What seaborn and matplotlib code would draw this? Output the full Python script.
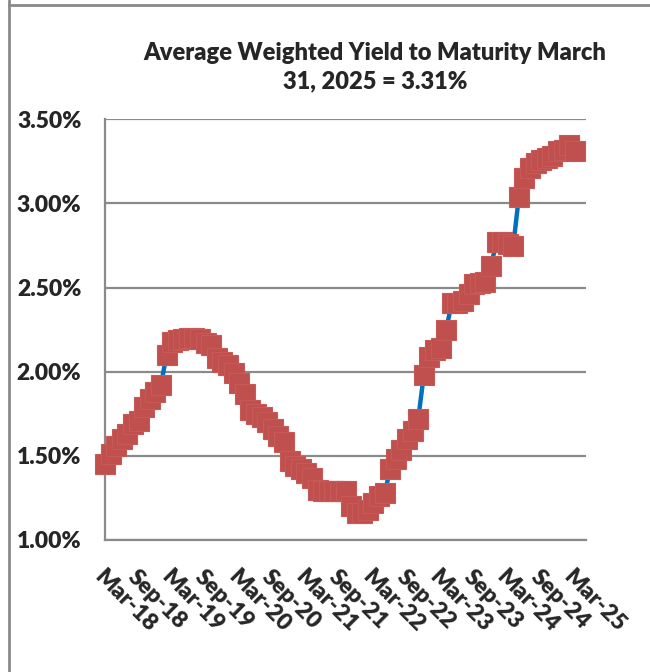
import matplotlib
matplotlib.use("Agg")
import matplotlib.pyplot as plt
import matplotlib.lines as mlines
import seaborn as sns
import pandas as pd

# monthly average weighted yield to maturity, Mar-18 .. Mar-25 (percent)
months = pd.date_range("2018-03-01", "2025-03-01", freq="MS")
yields = [
    1.45, 1.51, 1.56, 1.60, 1.63, 1.69, 1.71, 1.79, 1.84, 1.88, 1.92,
    2.10, 2.175, 2.19, 2.195, 2.20, 2.20, 2.195, 2.17, 2.16, 2.08, 2.06,
    2.04, 1.99, 1.93, 1.87, 1.77, 1.75, 1.73, 1.70, 1.66, 1.62, 1.58,
    1.47, 1.44, 1.42, 1.40, 1.37, 1.30, 1.29, 1.29, 1.29, 1.29, 1.29,
    1.20, 1.16, 1.16, 1.18, 1.22, 1.26, 1.28, 1.42, 1.48, 1.535, 1.60,
    1.65, 1.72, 1.98, 2.09, 2.13, 2.14, 2.25, 2.41, 2.41, 2.42, 2.46,
    2.52, 2.53, 2.535, 2.63, 2.77, 2.77, 2.76, 2.75, 3.04, 3.15, 3.21,
    3.24, 3.26, 3.27, 3.28, 3.31, 3.32, 3.35, 3.31,
]
tick_labels = ["Mar-18", "Sep-18", "Mar-19", "Sep-19", "Mar-20", "Sep-20",
               "Mar-21", "Sep-21", "Mar-22", "Sep-22", "Mar-23", "Sep-23",
               "Mar-24", "Sep-24", "Mar-25"]
y_ticks = [1.0, 1.5, 2.0, 2.5, 3.0, 3.5]

df = pd.DataFrame({"idx": range(len(months)), "yld": yields})

sns.set_style("white")
plt.rcParams["font.family"] = ["Lato", "DejaVu Sans"]

fig = plt.figure(figsize=(6.5, 6.72), dpi=100)
ax = fig.add_axes([105 / 650, 1 - 540 / 672, 481 / 650, 420.7 / 672])

grey = "#8a8a8a"
for yt in y_ticks:
    ax.axhline(yt, color=grey, lw=1.6, zorder=0)

sns.lineplot(data=df, x="idx", y="yld", ax=ax, color="#0070C0", lw=3.2,
             marker="s", markersize=14.5, markerfacecolor="#C0504D",
             markeredgecolor="#C75A57", markeredgewidth=0.8, clip_on=False,
             zorder=3)

ax.set_xlim(0, 86)
ax.set_ylim(1.0, 3.5)
ax.set_xticks(range(0, 85, 6))
ax.set_xticklabels(tick_labels, rotation=-45, ha="left", va="top",
                   rotation_mode="anchor", fontsize=16.5, fontweight="heavy")
ax.set_yticks(y_ticks)
ax.set_yticklabels(["%.2f%%" % v for v in y_ticks], fontsize=16.5,
                   fontweight="heavy")
ax.set_xlabel("")
ax.set_ylabel("")
ax.tick_params(axis="x", direction="out", length=6, width=1.6, color=grey,
               pad=13)
ax.tick_params(axis="y", direction="out", length=6, width=1.6, color=grey,
               pad=11)
for s in ["top", "right"]:
    ax.spines[s].set_visible(False)
for s in ["left", "bottom"]:
    ax.spines[s].set_color(grey)
    ax.spines[s].set_linewidth(1.6)

fig.text(375 / 650, 1 - 67 / 672,
         "Average Weighted Yield to Maturity March\n31, 2025 = 3.31%",
         ha="center", va="center", fontsize=17, fontweight="heavy",
         linespacing=1.35)

# chart border
fig.add_artist(mlines.Line2D([9 / 650, 9 / 650], [0, 1], color=grey, lw=2,
                             transform=fig.transFigure))
fig.add_artist(mlines.Line2D([9 / 650, 1], [1 - 5 / 672, 1 - 5 / 672],
                             color=grey, lw=2, transform=fig.transFigure))

fig.savefig("out.png", dpi=100)
